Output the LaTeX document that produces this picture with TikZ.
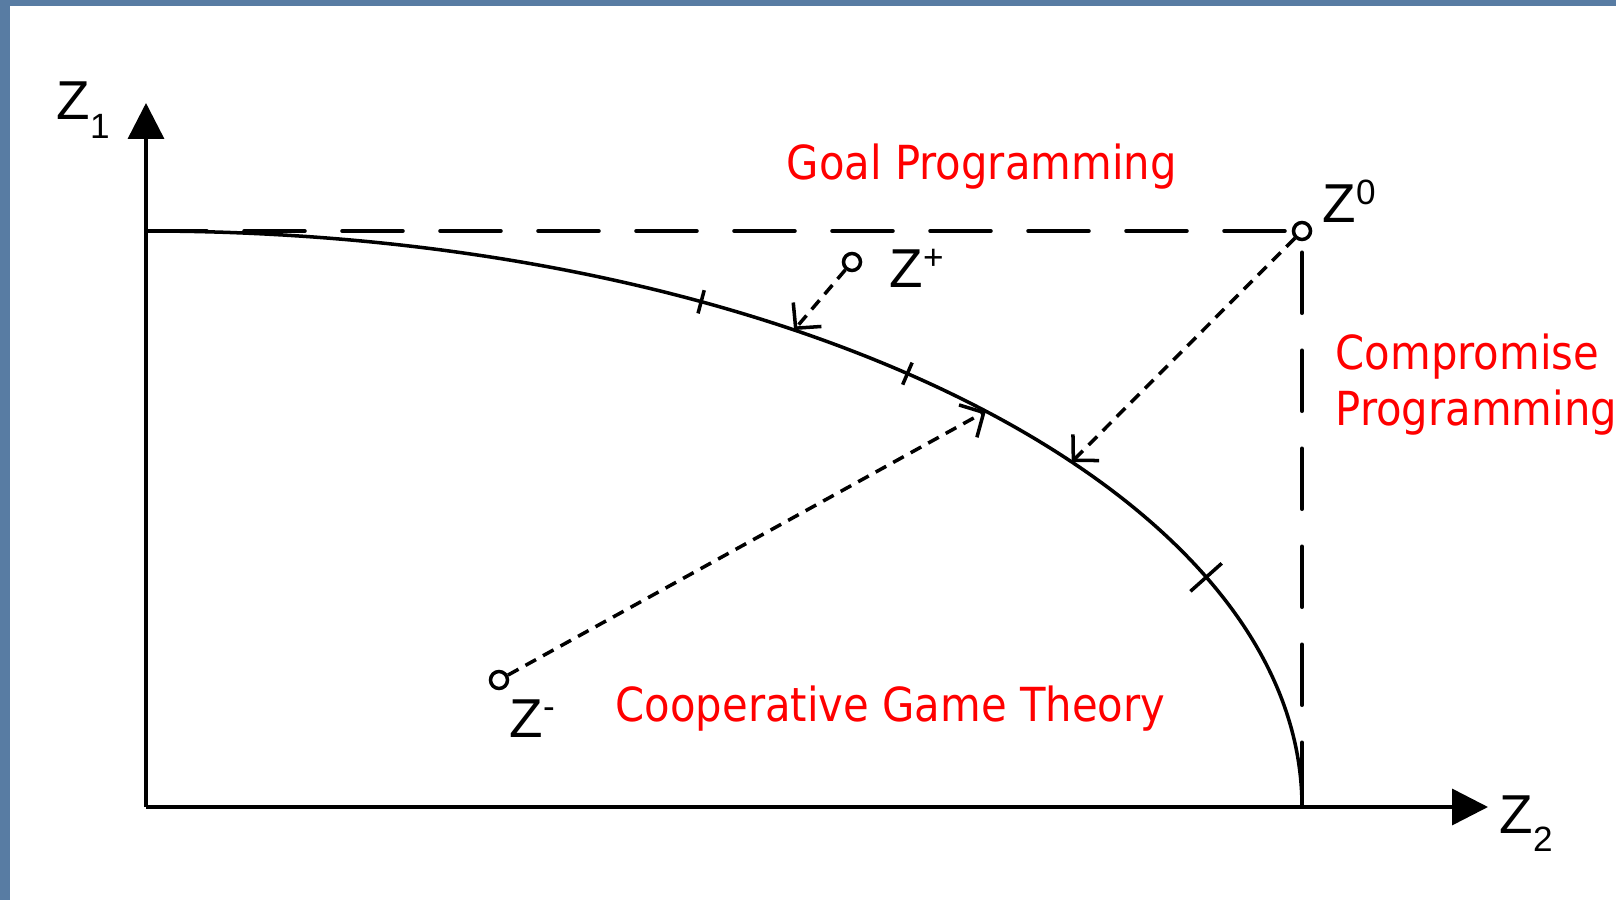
\documentclass[tikz,border=0pt]{standalone}
\usepackage{fontspec}
\setmainfont{Liberation Sans}
\newfontfamily\methodfont[FakeStretch=0.89]{DejaVu Sans}
\usepackage{xcolor}
\usepackage{tikz}
\usetikzlibrary{
  arrows.meta,
  calc,
}
\definecolor{slide}{RGB}{88,124,163}
\newcommand{\zsub}[1]{\raisebox{-5.2pt}{\fontsize{10}{10}\selectfont #1}}
\newcommand{\zsup}[1]{\raisebox{5.2pt}{\fontsize{10}{10}\selectfont #1}}

\begin{document}
\begin{tikzpicture}[
  axis/.style={-{Triangle[length=3.6mm,width=3.6mm]}, line width=1pt},
  frontier/.style={line width=1pt},
  guide/.style={line width=1pt, line cap=round, dash pattern=on 0.61cm off 0.37cm},
  move/.style={-{Straight Barb[length=1.8mm,width=3.7mm]}, line width=1pt,
               dash pattern=on 1.2mm off 0.8mm},
  ideal/.style={circle, draw, line width=1pt, fill=white, inner sep=0pt, minimum size=1.7mm},
  zlabel/.style={anchor=base west, inner sep=0pt, font=\fontsize{15.6}{18}\selectfont},
  method/.style={anchor=base west, inner sep=0pt, text=red, align=left,
                 font=\methodfont\fontsize{13.35}{16.2}\selectfont},
]

\useasboundingbox (0,0) rectangle (16.16,9);
\fill[slide] (0,0) rectangle (16.16,9);
\fill[white] (0.10,0) rectangle (16.16,8.94);

\coordinate (o) at (1.46,0.93);
\coordinate (ytip) at (1.46,7.97);
\coordinate (xtip) at (14.88,0.93);

\node[ideal] (z0)     at (13.02,6.69) {};
\node[ideal] (zplus)  at (8.52,6.38)  {};
\node[ideal] (zminus) at (4.99,2.20)  {};

\coordinate (a0)     at ($(o)+(36.8:11.56 and 5.76)$);
\coordinate (aplus)  at ($(o)+(55.9:11.56 and 5.76)$);
\coordinate (aminus) at ($(o)+(43.4:11.56 and 5.76)$);

\draw[axis] (o) -- (ytip);
\draw[axis] (o) -- (xtip);

\draw[frontier] ($(o)+(90:11.56 and 5.76)$)
  arc[start angle=90, end angle=0, x radius=11.56, y radius=5.76];

\foreach \t/\h [evaluate=\t as \tn using \t+1] in {61.3/0.12,48.8/0.12,23.5/0.21}{
  \coordinate (p) at ($(o)+(\t:11.56 and 5.76)$);
  \coordinate (q) at ($(o)+(\tn:11.56 and 5.76)$);
  \draw[frontier] ($(p)!\h cm!90:(q)$) -- ($(p)!\h cm!-90:(q)$);
}

\draw[guide] (o |- z0) -- (z0);
\draw[guide, dash phase=0.87cm] (z0) -- (z0 |- o);

\draw[move] (z0) -- (a0);
\draw[move] (zplus) -- (aplus);
\draw[move] (zminus) -- (aminus);

\node[zlabel] (lz1) at (0.56,7.80)  {Z\zsub{1}};
\node[zlabel] (lz2) at (14.99,0.67) {Z\zsub{2}};
\node[zlabel] (lz0) at (13.22,6.77) {Z\zsup{0}};
\node[zlabel] (lzp) at (8.89,6.12)  {Z\zsup{+}};
\node[zlabel] (lzm) at (5.09,1.63)  {Z\zsup{-}};

\node[method] (goal) at (7.86,7.20)  {Goal Programming};
\node[method] (coop) at (6.15,1.79)  {Cooperative Game Theory};
\node[method] (comp) at (13.35,4.74) {Compromise\\Programming};

\end{tikzpicture}
\end{document}
